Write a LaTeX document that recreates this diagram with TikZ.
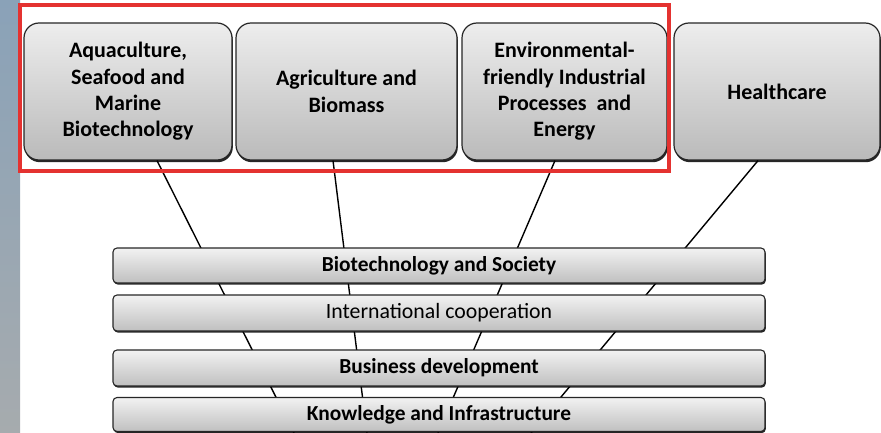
\documentclass[tikz,border=0pt]{standalone}
\usepackage{fontspec}
\setmainfont{Carlito}
\usetikzlibrary{calc,shadows}
\definecolor{redframe}{RGB}{228,50,48}
\definecolor{striptop}{RGB}{138,162,184}
\definecolor{stripbot}{RGB}{166,171,174}
\begin{document}
\begin{tikzpicture}[x=1pt,y=-1pt,
  topbox/.style={draw=black!85, line width=1.2pt, rounded corners=15pt,
    top color=black!7, bottom color=black!27, inner sep=0pt, align=center,
    font=\fontsize{22}{26.3}\selectfont\bfseries, minimum height=137pt,
    drop shadow={shadow xshift=0.8pt, shadow yshift=-2.2pt, fill=black, opacity=0.85}},
  barbox/.style={draw=black!85, line width=1.1pt, rounded corners=4pt,
    top color=black!5, bottom color=black!25, inner sep=0pt,
    minimum width=652pt, font=\fontsize{21.4}{26}\selectfont,
    drop shadow={shadow xshift=0.8pt, shadow yshift=-1.6pt, fill=black, opacity=0.85}},
  link/.style={draw=black, line width=1.4pt}]
\useasboundingbox (0,0) rectangle (881,433);
\fill[top color=striptop, bottom color=stripbot] (0,0) rectangle (20,433);
% top boxes
\node[topbox, minimum width=208pt] (b1) at (128,91.5) {Aquaculture,\\Seafood and\\Marine\\Biotechnology};
\node[topbox, minimum width=221pt] (b2) at (346.5,91.5) {Agriculture and\\Biomass};
\node[topbox, minimum width=205pt] (b3) at (564.5,91.5) {Environmental-\\friendly Industrial\\Processes~~and\\Energy};
\node[topbox, minimum width=206pt] (b4) at (777,91.5) {Healthcare};
% link ends
\coordinate (e1) at (294,433);
\coordinate (e2) at (367,433);
\coordinate (e3) at (438,433);
\coordinate (e4) at (531,433);
\draw[link] ($(b1.south)+(29,0)$) -- (e1);
\draw[link] ($(b2.south)+(-13.5,0)$) -- (e2);
\draw[link] ($(b3.south)+(-9.5,0)$) -- (e3);
\draw[link] ($(b4.south)+(-19,0)$) -- (e4);
% bars
\node[barbox, minimum height=35pt] (s1) at (439,265.5) {\bfseries Biotechnology and Society};
\node[barbox, minimum height=36pt] (s2) at (439,313) {\fontsize{21.8}{26}\selectfont International cooperation};
\node[barbox, minimum height=36pt] (s3) at (439,368) {\bfseries Business development};
\node[barbox, minimum height=34pt] (s4) at (439,414.5) {\bfseries Knowledge and Infrastructure};
% red frame
\draw[redframe, line width=4pt] (20,5) rectangle (669,171);
\end{tikzpicture}
\end{document}
